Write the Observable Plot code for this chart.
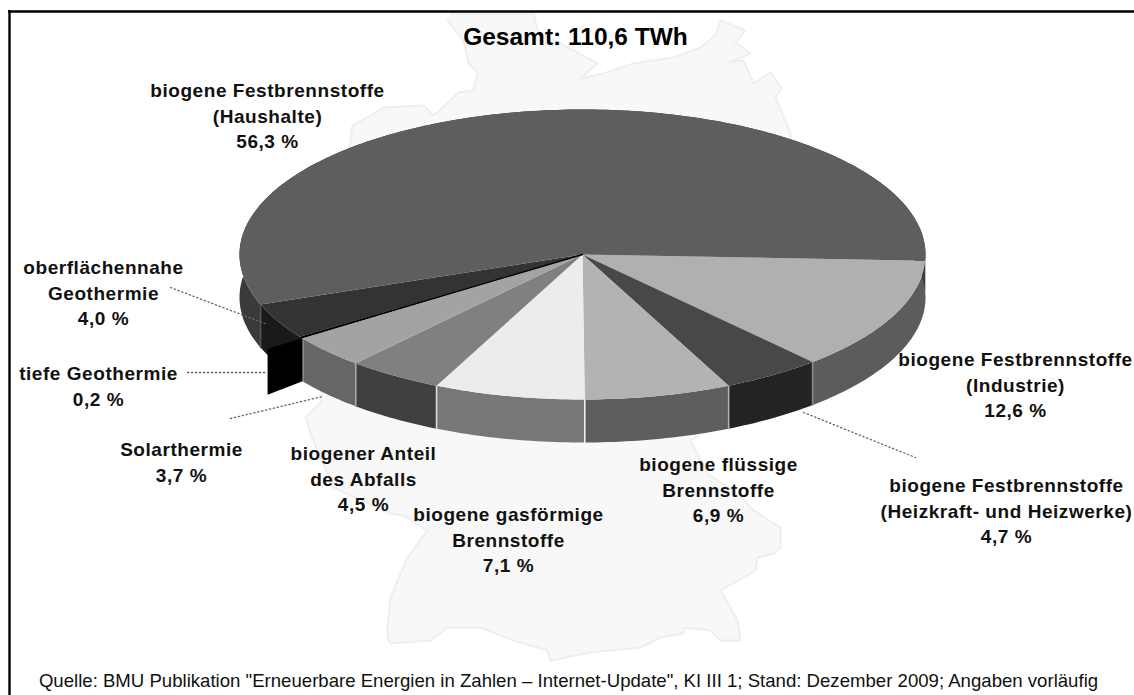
<!DOCTYPE html>
<html lang="de"><head><meta charset="utf-8">
<script src="https://cdn.jsdelivr.net/npm/d3@7"></script>
<script src="https://cdn.jsdelivr.net/npm/@observablehq/plot@0.6"></script>
<style>
html,body{margin:0;padding:0;background:#fff;overflow:hidden}
svg{display:block}
.lbl{letter-spacing:.55px}
</style></head><body>
<script>
// Values, clockwise from the Haushalte/Industrie boundary
const sliceNames = ["biogene Festbrennstoffe (Industrie)","biogene Festbrennstoffe (Heizkraft- und Heizwerke)","biogene flüssige Brennstoffe","biogene gasförmige Brennstoffe","biogener Anteil des Abfalls","Solarthermie","tiefe Geothermie","oberflächennahe Geothermie","biogene Festbrennstoffe (Haushalte)"];
const shares = [12.6,4.7,6.9,7.1,4.5,3.7,0.2,4.0,56.3];
const topColors = ["#b0b0b0","#484848","#b3b3b3","#ececec","#808080","#a3a3a3","#000000","#333333","#5e5e5e"];
const wallColors = ["#5c5c5c","#232323","#5e5e5e","#777777","#404040","#666666","#000000","#1a1a1a","#3a3a3a"];
const seamColors = ["#8a8a8a","#b0b0b0","#f0f0f0","#dddddd","#a8a8a8","#cccccc",null,"#555555",null];

// Pie projection
const cx = 582, cy = 254, rx = 343, ry = 145, depth = 43, startDeg = 2.5;
const cutDepth = 46, cutReach = 1.125;

// Labels
const labelTexts = ["biogene Festbrennstoffe\n(Haushalte)\n56,3 %","biogene Festbrennstoffe\n(Industrie)\n12,6 %","biogene Festbrennstoffe\n(Heizkraft- und Heizwerke)\n4,7 %","biogene flüssige\nBrennstoffe\n6,9 %","biogene gasförmige\nBrennstoffe\n7,1 %","biogener Anteil\ndes Abfalls\n4,5 %","Solarthermie\n3,7 %","tiefe Geothermie\n0,2 %","oberflächennahe\nGeothermie\n4,0 %"];
const labelX = [267,1015,1006,718,508,363,181,98,103];
const labelY = [114,383,509,488,538,477,460,384,291];
const titleText = "Gesamt: 110,6 TWh";
const sourceText = "Quelle: BMU Publikation \"Erneuerbare Energien in Zahlen – Internet-Update\", KI III 1; Stand: Dezember 2009; Angaben vorläufig";

// Dotted leaders
const leaderX = [[170,267],[187,267],[230,322],[803,915]];
const leaderY = [[287,324],[372,372],[418,396],[412,457]];

// Watermark outline of Germany
const mapX = [450,533,537,560,597,580,603,633,673,700,715,720,745,735,750,728,743,753,770,781,775,790,795,790,760,690,707,737,753,780,780,773,757,755,720,737,740,720,710,683,683,660,640,590,550,547,513,480,447,430,390,387,387,390,407,427,403,390,333,320,310,305,320,330,345,352,370,383,423,433,450,458,473,477,468,463,447];
const mapY = [13,13,30,43,63,78,73,63,57,47,35,20,30,42,53,62,60,83,72,88,97,133,200,300,400,440,473,493,510,527,547,553,557,570,590,620,640,640,630,627,633,637,647,652,660,650,640,627,627,640,643,637,627,597,557,530,515,513,487,457,433,417,402,300,180,125,115,107,105,115,100,92,90,72,63,40,20];

// Geometry derived from the shares
const rad = d => d * Math.PI / 180;
const px = (a, r = 1) => cx + rx * r * Math.cos(rad(a));
const py = (a, r = 1, dz = 0) => cy + ry * r * Math.sin(rad(a)) + dz;
const edges = d3.cumsum(shares).map(c => startDeg + c * 3.6);
const bounds = shares.map((s, i) => [i ? edges[i - 1] : startDeg, edges[i]]);
const arc = (a0, a1) => [...d3.range(a0, a1, 1), a1];

const tops = shares.flatMap((s, i) => {
  const [a0, a1] = bounds[i];
  return [{x: cx, y: cy}, ...arc(a0, a1).map(a => ({x: px(a), y: py(a)}))].map(p => ({...p, id: i, c: topColors[i]}));
});
const walls = shares.flatMap((s, i) => {
  const [a0, a1] = bounds[i];
  const pts = arc(a0, a1);
  return [...pts.map(a => ({x: px(a), y: py(a)})), ...pts.reverse().map(a => ({x: px(a), y: py(a, 1, depth)}))].map(p => ({...p, id: i, c: wallColors[i]}));
});
// Black cut face of the "tiefe Geothermie" slice
const cutA = bounds[6][0];
const cut = [
  {x: px(cutA), y: py(cutA)}, {x: px(cutA, cutReach), y: py(cutA, cutReach)},
  {x: px(cutA, cutReach), y: py(cutA, cutReach, cutDepth)}, {x: px(cutA), y: py(cutA, 1, depth)}
];
const blackEdge = [{x: cx, y: cy}, {x: px(bounds[6][1] - 0.3), y: py(bounds[6][1] - 0.3)}];
const seams = shares.flatMap((s, i) => seamColors[i] ? [
  {x: px(bounds[i][1]), y: py(bounds[i][1]), id: i, c: seamColors[i]},
  {x: px(bounds[i][1]), y: py(bounds[i][1], 1, depth), id: i, c: seamColors[i]}] : []);
const leaders = leaderX.flatMap((xs, i) => xs.map((x, j) => ({x, y: leaderY[i][j], id: i})));
const outline = mapX.map((x, i) => ({x, y: mapY[i]}));
const labels = labelTexts.map((t, i) => ({t, x: labelX[i], y: labelY[i]}));

const font = "'Liberation Sans', Arial, sans-serif";
const chart = Plot.plot({
  width: 1134, height: 695,
  margin: 0,
  x: {domain: [0, 1134], range: [0, 1134], axis: null},
  y: {domain: [0, 695], range: [0, 695], axis: null},
  color: {type: "identity"},
  style: {background: "#fff", fontFamily: font},
  marks: [
    Plot.line(outline, {x: "x", y: "y", fill: "#f8f8f8", stroke: "#eeeeee", strokeWidth: 2, curve: "linear"}),
    Plot.ruleX([9], {y1: 10, y2: 695, stroke: "#000", strokeWidth: 2.4}),
    Plot.ruleY([11], {x1: 8, x2: 1134, stroke: "#000", strokeWidth: 2.4}),
    Plot.line(walls, {x: "x", y: "y", z: "id", fill: "c", stroke: null}),
    Plot.line(seams, {x: "x", y: "y", z: "id", stroke: "c", strokeWidth: 1.6}),
    Plot.line(leaders, {x: "x", y: "y", z: "id", stroke: "#666", strokeWidth: 1.3, strokeDasharray: "1.3,2.7"}),
    Plot.line(cut, {x: "x", y: "y", fill: "#000", stroke: null}),
    Plot.line(tops, {x: "x", y: "y", z: "id", fill: "c", stroke: null}),
    Plot.line(blackEdge, {x: "x", y: "y", stroke: "#000", strokeWidth: 1.4}),
    Plot.text(labels, {x: "x", y: "y", text: "t", fontSize: 19, fontWeight: "bold", fill: "#111", lineHeight: 1.35, lineAnchor: "middle", textAnchor: "middle", className: "lbl"}),
    Plot.text([titleText], {x: () => 575, y: () => 37, text: d => d, fontSize: 24.5, fontWeight: "bold", fill: "#000", lineAnchor: "middle", textAnchor: "middle"}),
    Plot.text([sourceText], {x: () => 568, y: () => 681, text: d => d, fontSize: 18.6, fill: "#111", lineAnchor: "middle", textAnchor: "middle"})
  ]
});
document.body.appendChild(chart);
</script></body></html>
